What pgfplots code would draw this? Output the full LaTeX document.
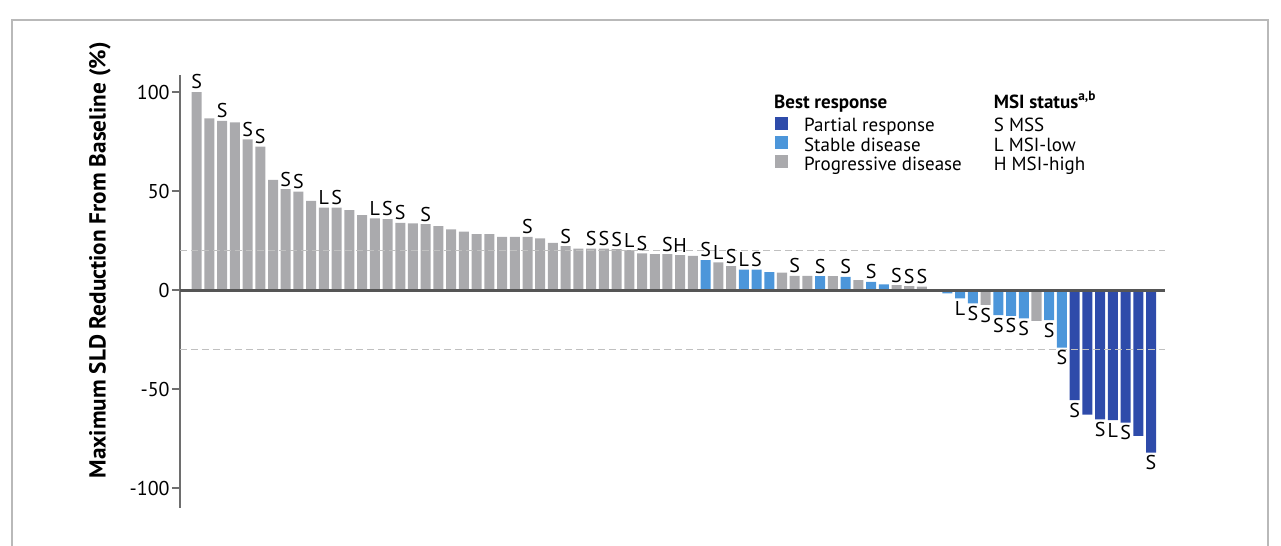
\documentclass[border=0pt]{standalone}
\usepackage{pgfplots}
\pgfplotsset{compat=1.18}
\usepackage{pgfplotstable}
\usepackage{fontspec}
\setmainfont{PT Sans}

\definecolor{prcol}{RGB}{46,75,170}
\definecolor{sdcol}{RGB}{76,150,218}
\definecolor{pdcol}{RGB}{170,170,173}
\definecolor{dashcol}{RGB}{192,192,192}
\definecolor{zerocol}{RGB}{85,85,85}
\definecolor{axcol}{RGB}{110,110,110}

% MSI label per patient; "-" means no label
\def\nolab{-}
\newcommand{\msilab}{\edef\tmplab{\pgfplotspointmeta}\ifx\tmplab\nolab\else\tmplab\fi}

% Progressive disease
\pgfplotstableread{
x y lab
0 100 S
1 86.7 -
2 85.5 S
3 84.7 -
4 76.1 S
5 72.4 S
6 55.6 -
7 51.0 S
8 49.7 S
9 45.1 -
10 41.6 L
11 41.6 S
12 40.4 -
13 37.9 -
14 36.2 L
15 35.9 S
16 34.0 S
17 33.7 -
18 33.3 S
19 32.3 -
20 30.6 -
21 29.5 -
22 28.3 -
23 28.3 -
24 26.9 -
25 26.9 -
26 26.9 S
27 26.1 -
28 23.9 -
29 22.2 S
30 21.0 -
31 21.0 S
32 21.0 S
33 20.7 S
34 20.2 L
35 18.5 S
36 18.2 -
37 18.2 S
38 17.7 H
39 17.3 -
41 14.0 L
42 12.1 S
46 8.8 -
47 7.2 S
48 7.2 -
50 7.1 -
52 5.1 -
55 2.5 S
56 2.0 S
57 1.7 S
62 -7.5 S
66 -15.5 -
}\pdtable

% Stable disease
\pgfplotstableread{
x y lab
40 15.2 S
43 10.4 L
44 10.4 S
45 9.1 -
49 7.1 S
51 6.7 S
53 4.2 S
54 2.9 -
59 -1.7 -
60 -4.2 L
61 -6.7 S
63 -12.6 S
64 -13.0 S
65 -14.3 S
67 -15.2 S
68 -29.0 S
}\sdtable

% Partial response
\pgfplotstableread{
x y lab
69 -55.6 S
70 -62.8 -
71 -65.2 S
72 -65.7 L
73 -66.9 S
74 -73.6 -
75 -82.0 S
}\prtable

\begin{document}
\begin{tikzpicture}[x=1pt,y=1pt]
% outer frame
\draw[gray!55, line width=0.6pt] (6,0) -- (6,263) -- (634,263) -- (634,0);
\begin{axis}[
  at={(90pt,19pt)}, anchor=south west,
  scale only axis, width=492.5pt, height=216.5pt,
  xmin=-1.31, xmax=76.1, ymin=-110, ymax=108.6,
  axis x line=none, axis y line*=left,
  ytick={-100,-50,0,50,100}, yticklabels={-100,-50,0,50,100},
  tick align=outside, major tick length=4pt,
  y axis line style={draw=axcol, line width=0.8pt},
  ytick style={draw=axcol, line width=0.8pt},
  yticklabel style={font=\fontsize{10}{12}\selectfont, inner sep=1pt},
  ylabel={\textbf{Maximum SLD Reduction From Baseline (\%)}},
  ylabel style={at={(axis description cs:-0.0812,0.572)}, anchor=center,
    font=\fontsize{11.6}{13}\selectfont},
  clip=false,
  visualization depends on={\thisrow{y} \as \yv},
  nodes near coords={\msilab},
  every node near coord/.append style={font=\fontsize{10}{12}\selectfont, inner sep=1.2pt},
  every node near coord/.append code={%
    \ifdim\yv pt<0pt \pgfkeysalso{anchor=north}\else\pgfkeysalso{anchor=south}\fi},
  legend columns=2,
  legend cell align=left,
  legend style={at={(axis description cs:0.604,0.942)}, anchor=north west,
    draw=none, fill=none, inner sep=0pt,
    font=\fontsize{9.5}{11}\selectfont,
    nodes={inner sep=0pt, text height=6pt, text depth=2pt},
    /tikz/every odd column/.append style={column sep=8pt},
    /tikz/every even column/.append style={column sep=8pt}},
]
% legend
\addlegendimage{empty legend}
\addlegendentry{\raisebox{2.2pt}{\hspace*{-15pt}\textbf{Best response}}}
\addlegendimage{empty legend}
\addlegendentry{\raisebox{2.2pt}{\textbf{MSI status}\textsuperscript{\textbf{a,b}}}}
\addlegendimage{legend image code/.code={\fill[prcol] (0pt,-0.5pt) rectangle (6pt,5.5pt);}}
\addlegendentry{Partial response}
\addlegendimage{empty legend}
\addlegendentry{S MSS}
\addlegendimage{legend image code/.code={\fill[sdcol] (0pt,-0.5pt) rectangle (6pt,5.5pt);}}
\addlegendentry{Stable disease}
\addlegendimage{empty legend}
\addlegendentry{L MSI-low}
\addlegendimage{legend image code/.code={\fill[pdcol] (0pt,-0.5pt) rectangle (6pt,5.5pt);}}
\addlegendentry{Progressive disease}
\addlegendimage{empty legend}
\addlegendentry{H MSI-high}

% bars
\addplot[ybar, bar width=0.787, bar shift=0pt, fill=pdcol, draw=none,
  point meta=explicit symbolic, forget plot] table[x=x, y=y, meta=lab] {\pdtable};
\addplot[ybar, bar width=0.787, bar shift=0pt, fill=sdcol, draw=none,
  point meta=explicit symbolic, forget plot] table[x=x, y=y, meta=lab] {\sdtable};
\addplot[ybar, bar width=0.787, bar shift=0pt, fill=prcol, draw=none,
  point meta=explicit symbolic, forget plot] table[x=x, y=y, meta=lab] {\prtable};

% response thresholds and zero line
\addplot[dashcol, line width=0.8pt, dash pattern=on 3.5pt off 2pt, forget plot,
  nodes near coords={}, visualization depends on={0 \as \yv}] coordinates {(-1.31,20) (76.1,20)};
\addplot[dashcol, line width=0.8pt, dash pattern=on 3.5pt off 2pt, forget plot,
  nodes near coords={}, visualization depends on={0 \as \yv}] coordinates {(-1.31,-30) (76.1,-30)};
\addplot[zerocol, line width=1.5pt, forget plot, nodes near coords={},
  visualization depends on={0 \as \yv}] coordinates {(-1.31,0) (76.1,0)};
\end{axis}
\pgfresetboundingbox
\useasboundingbox (0,0) rectangle (640.5,273);
\end{tikzpicture}
\end{document}
